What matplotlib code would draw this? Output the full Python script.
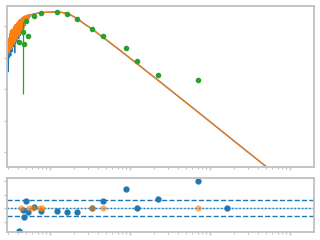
import numpy as np
import matplotlib
matplotlib.use('Agg')
import matplotlib.pyplot as plt

# values are log10 of wavelength / flux
model_logx = [0.460, 0.465, 0.470, 0.475, 0.480, 0.485, 0.490, 0.495, 0.500,
              0.505, 0.510, 0.515, 0.520, 0.525, 0.530, 0.535, 0.540, 0.545,
              0.550, 0.555, 0.560, 0.565, 0.570, 0.575, 0.580, 0.585, 0.590,
              0.595, 0.600, 0.605, 0.610, 0.615, 0.620, 0.625, 0.630, 0.635,
              0.640, 0.645, 0.650, 0.655, 0.660, 0.665, 0.670, 0.675, 0.680,
              0.685, 0.690, 0.695, 0.700, 0.705, 0.710, 0.715, 0.720, 0.725,
              0.730, 0.735, 0.740, 0.745,
              0.75, 0.8125, 0.875, 0.9375, 1.0, 1.0625, 1.125, 1.1875, 1.25,
              1.3125, 1.375, 1.4375, 1.5, 1.5625, 1.625, 1.75, 1.875, 2.125,
              2.375, 2.875, 3.375, 3.875]
model_logy = [3.20, 3.55, 3.10, 3.48, 3.30, 3.62, 3.15, 3.70, 3.40,
              3.85, 3.25, 3.78, 3.45, 3.90, 3.30, 3.82, 3.55, 3.98,
              3.42, 3.95, 3.60, 4.05, 3.50, 4.02, 3.70, 4.10, 3.58,
              4.12, 3.78, 4.16, 3.68, 4.18, 3.85, 4.22, 3.75, 4.20,
              3.92, 4.26, 3.85, 4.25, 4.00, 4.29, 3.95, 4.30, 4.08,
              4.32, 4.05, 4.31, 4.15, 4.33, 4.12, 4.34, 4.22, 4.34,
              4.20, 4.35, 4.28, 4.33,
              4.35, 4.385, 4.415, 4.43, 4.44, 4.444, 4.438, 4.419, 4.365,
              4.276, 4.171, 4.057, 3.946, 3.832, 3.714, 3.473, 3.225, 2.730,
              2.229, 1.219, 0.203, -0.813]

spec_logx = [0.4625, 0.4675, 0.4725, 0.4775, 0.4825, 0.4875, 0.4925, 0.4975,
             0.5025, 0.5075, 0.5125, 0.5175, 0.5225, 0.5275, 0.5325, 0.5375,
             0.5425, 0.5475, 0.5525, 0.5575, 0.5625, 0.5675, 0.5725, 0.5775,
             0.5825, 0.5875, 0.5925, 0.5975, 0.6025, 0.6075, 0.6125, 0.6175,
             0.6225, 0.6275, 0.6325, 0.6375, 0.6425, 0.6475, 0.6525, 0.6575,
             0.6625, 0.6675, 0.6725, 0.6775, 0.6825, 0.6875, 0.6925, 0.6975,
             0.7025, 0.7075, 0.7125, 0.7175, 0.7225, 0.7275, 0.7325, 0.7375,
             0.7425, 0.7475,
             0.76, 0.78, 0.80, 0.85, 0.90, 0.95, 1.0, 1.05, 1.1, 1.15, 1.2,
             1.25, 1.3, 1.35, 1.4, 1.45, 1.5, 1.55, 1.6, 1.65, 1.7, 1.75,
             1.875, 2.125, 2.375, 2.875, 3.375, 3.875]
spec_logy = [3.35, 2.90, 3.50, 2.55, 3.45, 3.00, 3.60, 3.10,
             3.75, 3.05, 3.70, 3.30, 3.85, 3.20, 3.80, 3.40,
             3.92, 3.35, 3.90, 3.15, 4.00, 3.45, 3.98, 3.55,
             4.05, 3.50, 4.08, 3.65, 4.12, 3.60, 4.15, 3.75,
             4.18, 3.70, 4.20, 3.85, 4.22, 3.80, 4.24, 3.92,
             4.27, 3.90, 4.28, 4.00, 4.30, 4.02, 4.30, 4.10,
             4.32, 4.12, 4.33, 4.18, 4.34, 4.20, 4.35, 4.25,
             4.35, 4.30,
             4.36, 4.37, 4.385, 4.41, 4.425, 4.435, 4.44, 4.445, 4.44, 4.43, 4.40,
             4.36, 4.29, 4.21, 4.12, 4.03, 3.95, 3.86, 3.76, 3.66, 3.57, 3.47,
             3.23, 2.73, 2.23, 1.22, 0.20, -0.81]

phot_logx = [0.616, 0.6625, 0.675, 0.704, 0.721, 0.804, 0.891, 1.091, 1.216,
             1.341, 1.529, 1.666, 1.954, 2.091, 2.354, 2.854]
phot_logy = [3.50, 3.82, 3.43, 4.17, 3.68, 4.32, 4.40, 4.43, 4.38,
             4.22, 3.90, 3.68, 3.30, 2.89, 2.44, 2.29]
# only the second point has a visible error bar
phot_lo = [3.50, 1.84, 3.43, 4.17, 3.68, 4.32, 4.40, 4.43, 4.38,
           4.22, 3.90, 3.68, 3.30, 2.89, 2.44, 2.29]
phot_hi = [3.50, 4.13, 3.43, 4.17, 3.68, 4.32, 4.40, 4.43, 4.38,
           4.22, 3.90, 3.68, 3.30, 2.89, 2.44, 2.29]

res_logx = [0.616, 0.6625, 0.675, 0.704, 0.721, 0.804, 0.891, 1.091, 1.216,
            1.341, 1.529, 1.666, 1.954, 2.091, 2.354, 2.854, 3.216]
res_val = [-8.3, -0.7, -3.3, 2.6, -1.2, 0.6, -0.9, -0.9, -1.2,
           -1.2, 0.0, 2.6, 7.3, 0.3, 3.6, 10.0, 0.0]
lim_logx = [0.633, 0.741, 0.791, 0.875, 0.904, 1.529, 1.6625, 2.85]
lim_val = [0, 0, 0, 0, 0, 0, 0, 0]

spine_col = '#c0c0c0'

fig = plt.figure(figsize=(3.2, 2.4), dpi=100)
ax = fig.add_axes([0.022, 0.304, 0.959, 0.671])
axr = fig.add_axes([0.022, 0.033, 0.959, 0.225])

ax.plot(10 ** np.array(spec_logx), 10 ** np.array(spec_logy), color='C0', lw=1)
ax.plot(10 ** np.array(model_logx), 10 ** np.array(model_logy), color='C1', lw=0.9)
py = 10 ** np.array(phot_logy)
yerr = [py - 10 ** np.array(phot_lo), 10 ** np.array(phot_hi) - py]
ax.errorbar(10 ** np.array(phot_logx), py, yerr=yerr, fmt='o', color='C2',
            ms=3, elinewidth=0.9, capsize=0)

ax.set_xscale('log')
ax.set_yscale('log')
ax.set_xlim(10 ** 0.4625, 10 ** 4.3)
ax.set_ylim(10 ** -0.476, 10 ** 4.635)
ax.yaxis.set_minor_locator(matplotlib.ticker.NullLocator())

axr.axhline(0, color='C0', lw=1, alpha=0.35)
axr.axhline(0, color='C0', lw=1, ls=':')
axr.axhline(3, color='C0', lw=1, ls='--')
axr.axhline(-3, color='C0', lw=1, ls='--')
axr.plot(10 ** np.array(res_logx), res_val, 'o', color='C0', ms=3.5)
axr.plot(10 ** np.array(lim_logx), lim_val, 'o', color='C1', ms=3.5, alpha=0.5)
axr.set_xscale('log')
axr.set_xlim(10 ** 0.4625, 10 ** 4.3)
axr.set_ylim(-8.8, 11.2)
axr.set_yticks([-5, 0, 5, 10])

for a in (ax, axr):
    for s in a.spines.values():
        s.set_color(spine_col)
        s.set_linewidth(1.3)
    a.tick_params(which='both', colors=spine_col, labelleft=False, labelbottom=False)
    a.tick_params(which='major', length=2.5, width=1)
    a.tick_params(which='minor', length=1.5, width=0.8)

fig.savefig('out.png', dpi=100)
